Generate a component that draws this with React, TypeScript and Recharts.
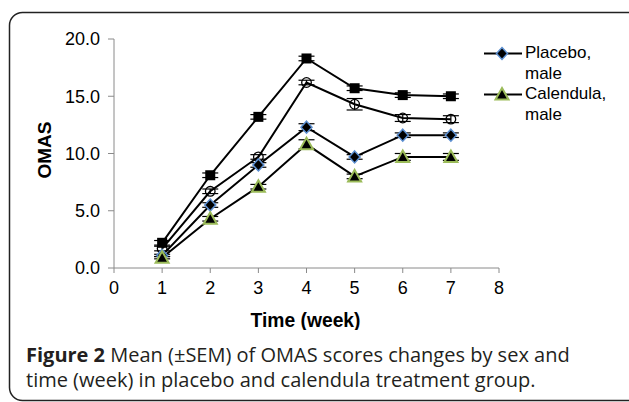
import React from "react";
import { LineChart, Line, XAxis, YAxis, ErrorBar, Label } from "recharts";

const weeks = [1, 2, 3, 4, 5, 6, 7];
const xTicks = [0, 1, 2, 3, 4, 5, 6, 7, 8];
const yTicks = [0, 5, 10, 15, 20];

// mean OMAS per week
const placeboFemale = [2.2, 8.1, 13.2, 18.3, 15.7, 15.1, 15.0];
const calendulaFemale = [1.7, 6.7, 9.7, 16.2, 14.3, 13.1, 13.0];
const placeboMale = [1.1, 5.5, 9.0, 12.3, 9.7, 11.6, 11.6];
const calendulaMale = [0.9, 4.3, 7.1, 10.8, 8.0, 9.7, 9.7];

// SEM per week
const placeboFemaleSem = [0.2, 0.2, 0.2, 0.2, 0.2, 0.2, 0.2];
const calendulaFemaleSem = [0.2, 0.2, 0.2, 0.2, 0.5, 0.3, 0.3];
const placeboMaleSem = [0.1, 0.2, 0.2, 0.3, 0.2, 0.2, 0.2];
const calendulaMaleSem = [0.1, 0.2, 0.2, 0.4, 0.2, 0.3, 0.3];

const data = weeks.map((w, i) => ({
  week: w,
  pf: placeboFemale[i],
  pfErr: placeboFemaleSem[i],
  cf: calendulaFemale[i],
  cfErr: calendulaFemaleSem[i],
  pm: placeboMale[i],
  pmErr: placeboMaleSem[i],
  cm: calendulaMale[i],
  cmErr: calendulaMaleSem[i],
}));

const FONT = "'Liberation Sans', Arial, sans-serif";
const AXIS = "#8a8a8a";

const Square = (p: any) => (
  <rect key={p.index} x={p.cx - 5} y={p.cy - 5} width={10} height={10} fill="#000" />
);
const Circle = (p: any) => (
  <circle key={p.index} cx={p.cx} cy={p.cy} r={4.8} fill="none" stroke="#000" strokeWidth={1.3} />
);
const Diamond = (p: any) => (
  <path
    key={p.index}
    d={`M${p.cx},${p.cy - 6}L${p.cx + 5.5},${p.cy}L${p.cx},${p.cy + 6}L${p.cx - 5.5},${p.cy}Z`}
    fill="#000"
    stroke="#5b8fd1"
    strokeWidth={1.5}
  />
);
const Triangle = (p: any) => (
  <path
    key={p.index}
    d={`M${p.cx},${p.cy - 6.5}L${p.cx + 6.5},${p.cy + 5}L${p.cx - 6.5},${p.cy + 5}Z`}
    fill="#000"
    stroke="#9bbb59"
    strokeWidth={2}
  />
);

const legendItems = [
  { lines: ["Placebo,", "male"], Marker: Diamond },
  { lines: ["Calendula,", "male"], Marker: Triangle },
];

export default function App() {
  return (
    <div style={{ position: "absolute", left: 0, top: 0, width: 629, height: 402, background: "#fff", overflow: "hidden" }}>
      <svg width={629} height={402} style={{ position: "absolute", left: 0, top: 0 }}>
        <rect x={9.5} y={12.5} width={700} height={388} rx={13} fill="none" stroke="#222" strokeWidth={1.5} />
      </svg>
      <LineChart
        width={629}
        height={330}
        data={data}
        margin={{ top: 39, right: 130, bottom: 12, left: 0 }}
        style={{ position: "absolute", left: 0, top: 0, fontFamily: FONT }}
      >
        <XAxis
          dataKey="week"
          type="number"
          domain={[0, 8]}
          ticks={xTicks}
          height={50}
          stroke={AXIS}
          tickSize={5}
          tickMargin={8}
          tick={{ fill: "#000", fontSize: 18 }}
        >
          <Label
            content={({ viewBox }: any) => (
              <text x={viewBox.x + viewBox.width / 2 - 1} y={320} textAnchor="middle" dominantBaseline="central" fontSize={19.3} fontWeight="bold" fill="#000">
                Time (week)
              </text>
            )}
          />
        </XAxis>
        <YAxis
          type="number"
          domain={[0, 20]}
          ticks={yTicks}
          width={114}
          stroke={AXIS}
          tickSize={6}
          tickMargin={8}
          tickFormatter={(v: number) => v.toFixed(1)}
          tick={{ fill: "#000", fontSize: 18 }}
        >
          <Label
            content={() => (
              <text x={44} y={150} transform="rotate(-90 44 150)" textAnchor="middle" dominantBaseline="central" fontSize={19} fontWeight="bold" fill="#000">
                OMAS
              </text>
            )}
          />
        </YAxis>
        <Line dataKey="pf" stroke="#000" strokeWidth={2} dot={Square} isAnimationActive={false}>
          <ErrorBar dataKey="pfErr" width={8} stroke="#000" strokeWidth={1.2} direction="y" />
        </Line>
        <Line dataKey="cf" stroke="#000" strokeWidth={2} dot={Circle} isAnimationActive={false}>
          <ErrorBar dataKey="cfErr" width={8} stroke="#000" strokeWidth={1.2} direction="y" />
        </Line>
        <Line dataKey="pm" stroke="#000" strokeWidth={2} dot={Diamond} isAnimationActive={false}>
          <ErrorBar dataKey="pmErr" width={8} stroke="#000" strokeWidth={1.2} direction="y" />
        </Line>
        <Line dataKey="cm" stroke="#000" strokeWidth={2} dot={Triangle} isAnimationActive={false}>
          <ErrorBar dataKey="cmErr" width={8} stroke="#000" strokeWidth={1.2} direction="y" />
        </Line>
      </LineChart>
      <div style={{ position: "absolute", left: 484, top: 43, fontFamily: FONT, fontSize: 17, lineHeight: "20.5px", color: "#000" }}>
        {legendItems.map((item) => (
          <div key={item.lines[0]} style={{ display: "flex", alignItems: "flex-start" }}>
            <svg width={40} height={20} style={{ flex: "none" }}>
              <line x1={0} y1={10.5} x2={38} y2={10.5} stroke="#000" strokeWidth={2} />
              <item.Marker cx={18} cy={10.5} index={0} />
            </svg>
            <div style={{ marginLeft: 1 }}>
              {item.lines.map((l) => (
                <div key={l}>{l}</div>
              ))}
            </div>
          </div>
        ))}
      </div>
      <div
        style={{
          position: "absolute",
          left: 26,
          top: 342,
          width: 603,
          whiteSpace: "nowrap",
          fontFamily: "'Open Sans', sans-serif",
          fontSize: 20,
          fontWeight: 500,
          lineHeight: "25px",
          color: "#231f20",
        }}
      >
        <b>Figure 2</b> Mean (±SEM) of OMAS scores changes by sex and
        <br />
        time (week) in placebo and calendula treatment group.
      </div>
    </div>
  );
}
